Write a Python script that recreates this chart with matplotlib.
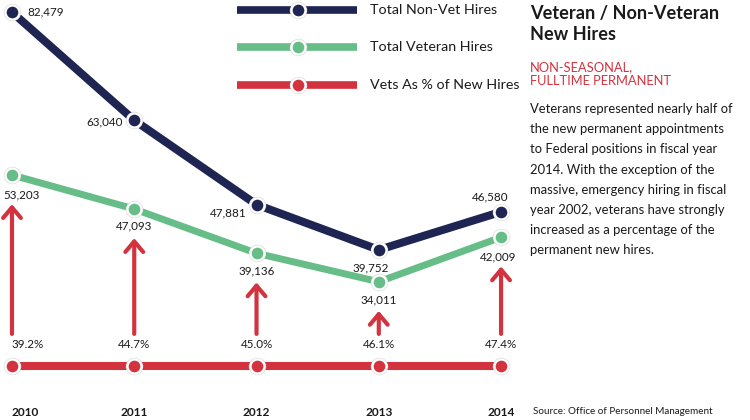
import matplotlib
matplotlib.use("Agg")
import matplotlib.pyplot as plt
from matplotlib.lines import Line2D

plt.rcParams['font.family'] = ['Lato', 'DejaVu Sans']

# data
years = ['2010', '2011', '2012', '2013', '2014']
non_vet = [82479, 63040, 47881, 39752, 46580]
vet = [53203, 47093, 39136, 34011, 42009]
vet_pct = [39.2, 44.7, 45.0, 46.1, 47.4]

NAVY = '#1f2553'
GREEN = '#66bd87'
RED = '#d3333f'
TXT = '#1a1a1a'

fig = plt.figure(figsize=(7.5, 4.2), dpi=100)
ax = fig.add_axes([0, 0, 520 / 750, 1])
ax.set_xlim(-0.098, 4.155)
ax.set_ylim(9162, 84661)
ax.axis('off')

x = list(range(len(years)))


def dots(xs, ys, color, transform=None):
    kw = {} if transform is None else {'transform': transform}
    ax.plot(xs, ys, 'o', ms=12.5, color='#d8d8d8', mec='none', zorder=4, clip_on=False, **kw)
    ax.plot(xs, ys, 'o', ms=10, color=color, mec='white', mew=1.6, zorder=5, clip_on=False, **kw)


# main lines
ax.plot(x, non_vet, color=NAVY, lw=5.8, solid_capstyle='butt', zorder=3, clip_on=False)
dots(x, non_vet, NAVY)
ax.plot(x, vet, color=GREEN, lw=5, solid_capstyle='butt', zorder=3, clip_on=False)
dots(x, vet, GREEN)

# red strip with percentages
tr = ax.get_xaxis_transform()
ax.plot(x, [0.129] * len(x), color=RED, lw=5.8, transform=tr, zorder=3, clip_on=False)
dots(x, [0.129] * len(x), RED, transform=tr)

for i, (v, p) in enumerate(zip(vet, vet_pct)):
    ax.annotate('', xy=(i, v), xycoords='data',
                xytext=(i, 0.205), textcoords=('data', 'axes fraction'),
                arrowprops=dict(arrowstyle='->,head_length=0.38,head_width=0.32',
                                mutation_scale=20, color=RED, lw=3,
                                shrinkA=0, shrinkB=21))
    ha = 'left' if i == 0 else 'center'
    xo = -0.005 if i == 0 else 0
    ax.text(i + xo, 0.179, f'{p:.1f}%', transform=tr, ha=ha, va='center',
            fontsize=8.4, color=TXT)
    ax.text(i + xo, 0.019, years[i], transform=tr, ha=ha, va='center',
            fontsize=8.6, fontweight='bold', color=TXT)

# value labels (offsets in points)
nv_off = [(11, 0, 'left'), (-8, -1, 'right'), (-7, -6, 'right'), (-6, -13, 'center'), (-8, 11, 'center')]
for i, (v, (dx, dy, ha)) in enumerate(zip(non_vet, nv_off)):
    ax.annotate(f'{v:,}', (i, v), xytext=(dx, dy), textcoords='offset points',
                ha=ha, va='center', fontsize=8.4, color=TXT, zorder=6)
v_off = [(7, -14), (0, -12), (0, -13), (0, -13), (-2, -14)]
for i, (v, (dx, dy)) in enumerate(zip(vet, v_off)):
    ax.annotate(f'{v:,}', (i, v), xytext=(dx, dy), textcoords='offset points',
                ha='center', va='center', fontsize=8.4, color=TXT, zorder=6)

# legend drawn by hand
W, H = 750.0, 420.0
leg = [('Total Non-Vet Hires', NAVY, 10), ('Total Veteran Hires', GREEN, 47),
       ('Vets As % of New Hires', RED, 85)]
for label, c, py in leg:
    yy = 1 - py / H
    fig.add_artist(Line2D([237 / W, 357 / W], [yy, yy], color=c, lw=5.5,
                          transform=fig.transFigure, solid_capstyle='butt'))
    fig.add_artist(Line2D([298 / W], [yy], marker='o', ms=12.5, color='#d8d8d8', mec='none',
                          transform=fig.transFigure))
    fig.add_artist(Line2D([298 / W], [yy], marker='o', ms=10, color=c, mec='white', mew=1.6,
                          transform=fig.transFigure))
    fig.text(370 / W, yy, label, fontsize=10.3, color=TXT, va='center', ha='left')

# side panel text
fig.text(530 / W, 1 - 13 / H, 'Veteran / Non-Veteran', fontsize=13.1, fontweight='bold',
         color=TXT, va='center')
fig.text(530 / W, 1 - 35 / H, 'New Hires', fontsize=13.1, fontweight='bold',
         color=TXT, va='center')
fig.text(530 / W, 1 - 67 / H, 'NON-SEASONAL,', fontsize=9.3, color=RED, va='center')
fig.text(530 / W, 1 - 81 / H, 'FULLTIME PERMANENT', fontsize=9.3, color=RED, va='center')

para = ['Veterans represented nearly half of',
        'the new permanent appointments',
        'to Federal positions in fiscal year',
        '2014. With the exception of the',
        'massive, emergency hiring in fiscal',
        'year 2002, veterans have strongly',
        'increased as a percentage of the',
        'permanent new hires.']
for k, line in enumerate(para):
    fig.text(530 / W, 1 - (109 + 20.2 * k) / H, line, fontsize=9.4, color=TXT, va='center')

fig.text(533 / W, 1 - 412 / H, 'Source: Office of Personnel Management', fontsize=7.1,
         color=TXT, va='center')

fig.savefig('out.png', dpi=100, facecolor='white')
